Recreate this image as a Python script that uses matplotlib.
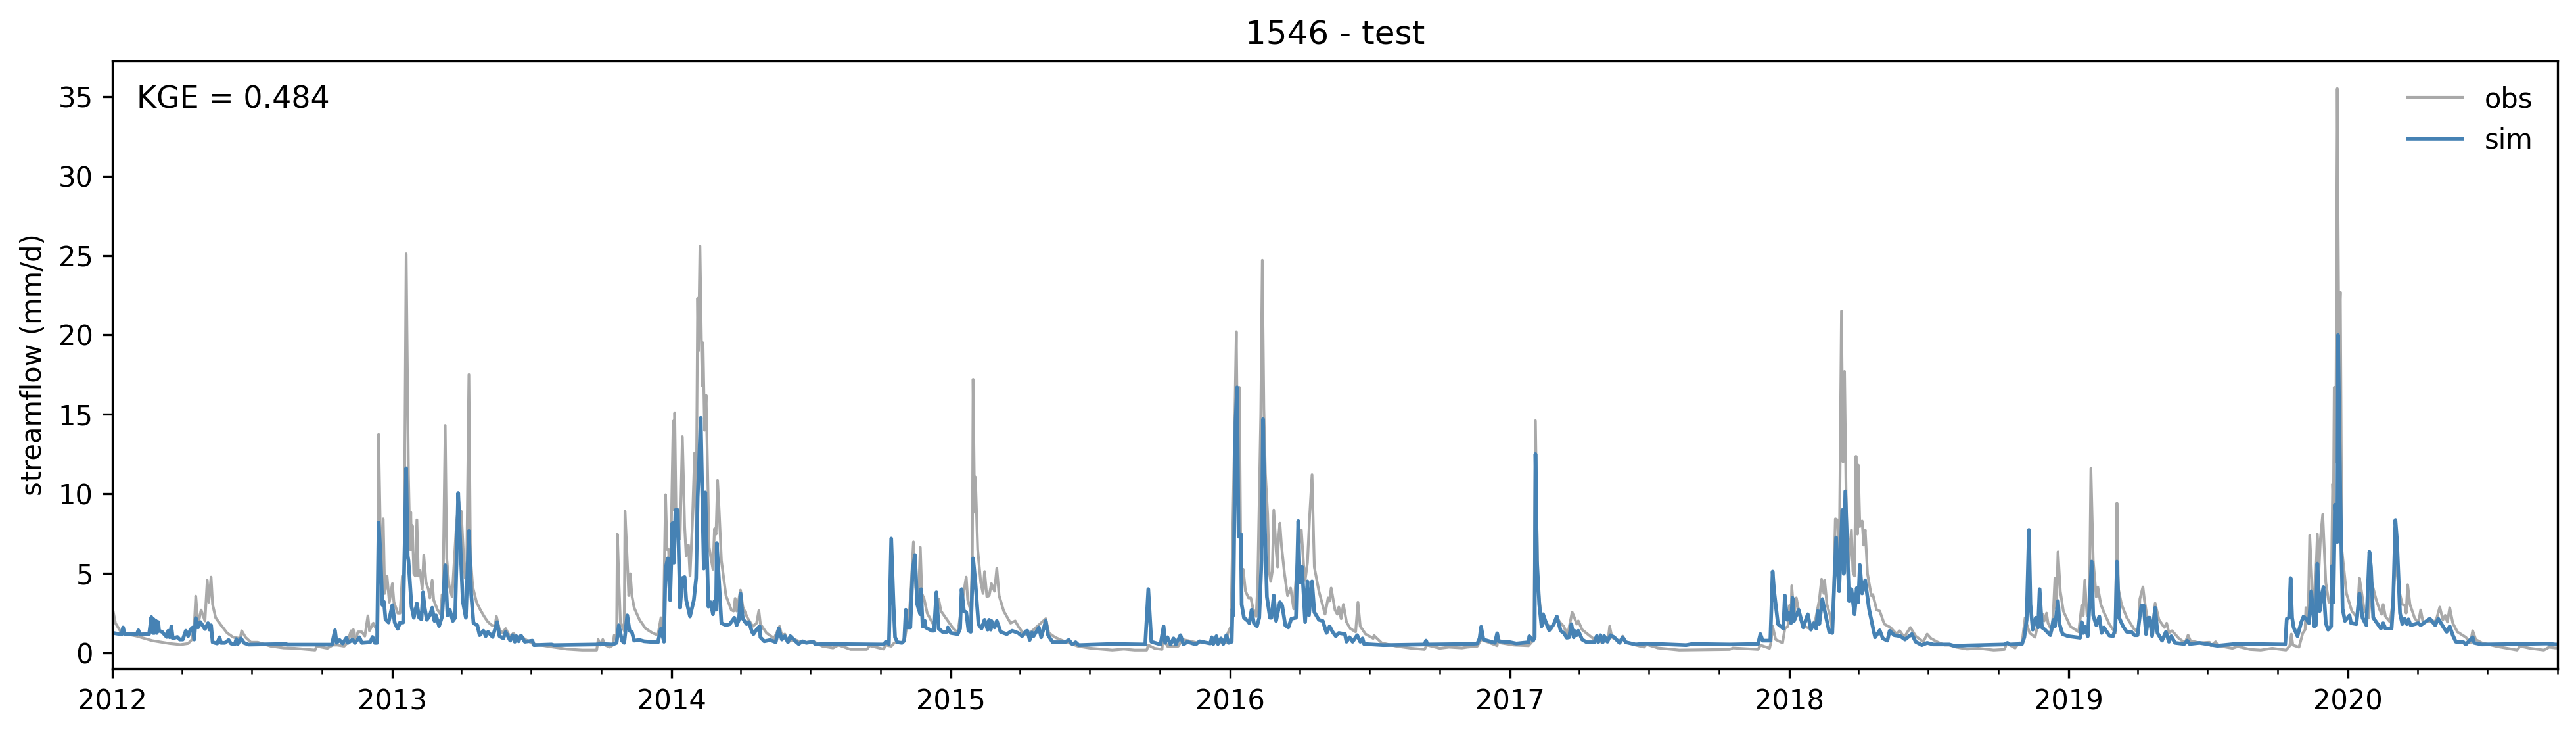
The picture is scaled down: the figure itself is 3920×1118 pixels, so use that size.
import numpy as np
import pandas as pd
import matplotlib
matplotlib.use("Agg")
import matplotlib.pyplot as plt
import matplotlib.dates as mdates

# days since 2012-01-01 and streamflow (mm/d)
start_date = pd.Timestamp("2012-01-01")

sim_days_2012 = [0,1,12,14,16,32,34,36,48,51,53,54,55,57,58,60,61,65,71,73,75,77,79,85,88,92,96,99,102,105,107,109,112,115,121,125,127,129,131,137,140,142,147,152,155,160,162,164,168,172,178,227,228,287,291,293,297,301,306,308,314,317,323,326,337,340,343,346,348,350,353,355,357,361,366,369,373,376,380,384,386,387,391]
sim_vals_2012 = [1.3,1.24,1.15,1.59,1.17,1.17,1.41,1.15,1.17,2.24,1.24,2.10,1.24,2.0,1.24,1.93,1.38,1.31,.99,1.38,.97,1.66,.9,.99,.83,.83,1.38,1.04,1.45,1.59,.83,2.18,1.59,1.93,1.49,1.86,1.45,1.73,.66,.58,.97,.62,.62,.8,.58,.52,.86,.55,.9,.62,.51,.55,.51,.51,1.41,.62,.8,.58,.94,.62,.83,.62,.97,.62,.66,.99,.62,.62,8.2,6.6,3.0,3.2,2.1,1.9,3.0,1.9,1.5,1.9,1.9,11.6,6.1,5.8,2.9]

sim_days_2013 = [394,398,401,404,406,408,411,415,418,421,423,427,431,435,438,441,445,448,452,454,458,462,466,469,472,477,480,485,488,491,497,503,506,511,514,520,523,526,528,531,534,539,549,551,574,577,632,639,654,659,662,666,669,673,676,679,682,689,695,713,717,721,723,726,729,732,734,736,739,742,745,748,750,755,760,763,765,767,769,773,775,779,782,785,787,789,790,793]
sim_vals_2013 = [2.2,3.1,2.2,2.1,3.8,2.9,2.07,2.35,2.83,2.0,2.35,1.68,2.28,5.5,2.35,2.7,2.0,2.2,10.05,7.73,3.25,2.2,7.66,3.7,1.86,1.73,1.1,1.38,1.04,1.31,.99,1.93,1.04,.9,1.31,.76,1.1,.69,1.04,.72,1.08,.69,.76,.48,.52,.48,.52,.55,.52,.62,1.73,.76,.62,2.35,1.38,1.31,.76,.8,.72,.65,1.52,.69,5.3,5.94,3.31,8.15,5.66,8.98,8.98,2.83,4.7,4.76,3.31,2.28,3.31,4.7,9.8,12.15,14.78,5.3,10.08,2.9,3.18,2.42,3.25,2.7,6.9,4.42]

sim_days_2014 = [796,802,807,813,816,819,821,824,829,832,836,838,843,846,847,852,860,867,871,875,879,883,886,892,897,902,907,916,919,929,1008,1011,1015,1018,1021,1023,1026,1032,1035,1037,1039,1043,1046,1049,1052,1056,1057,1059,1062,1063,1071,1074,1077,1080,1085,1091,1092,1096,1105,1108,1110,1113,1116,1119,1122,1125,1128,1132,1136,1140,1144,1146,1148,1149,1153,1156,1161,1169,1176,1184,1189,1194]
sim_vals_2014 = [1.86,1.73,1.8,2.2,1.73,2.07,3.73,2.14,1.8,1.93,1.31,1.17,1.52,1.66,.97,.72,.8,.66,1.52,.83,1.04,.66,1.04,.76,.55,.72,.62,.69,.52,.55,.52,.69,.55,7.18,3.04,.97,.66,.62,.76,2.7,1.59,1.59,5.25,6.15,3.04,2.42,4.0,1.66,2.0,1.59,1.38,1.38,3.8,1.52,1.31,1.31,1.59,1.24,1.17,1.52,4.0,2.62,2.55,1.38,1.31,5.94,4.42,1.8,1.52,2.07,1.45,2.07,1.45,2.0,1.59,2.0,1.31,1.17,1.38,1.24,1.04,1.35]

sim_days_2015 = [1196,1199,1202,1204,1211,1214,1220,1223,1229,1245,1250,1255,1259,1263,1307,1350,1354,1358,1370,1374,1376,1379,1383,1387,1390,1396,1400,1405,1416,1421,1435,1437,1439,1443,1445,1449,1452,1456,1459,1463,1464,1465,1468,1470,1472,1475,1476,1479,1484,1486,1489,1492,1496,1499,1502,1504,1506,1509,1513,1515,1518,1521,1526,1529,1533,1537,1541,1547,1550,1552,1555,1559,1562,1564,1568,1571,1577,1582,1587,1591]
sim_vals_2015 = [1.38,.8,1.27,1.04,1.59,.97,2.0,1.1,.66,.66,.8,.52,.66,.48,.55,.52,4.0,.69,.52,1.66,.62,.97,.52,.9,.52,1.1,.52,.69,.52,.72,.58,.97,.55,1.04,.55,.9,.55,1.1,.62,.69,2.76,2.35,14.5,16.7,7.3,7.46,3.04,2.2,2.0,1.86,2.7,1.86,1.66,2.2,5.8,14.7,8.56,3.52,2.2,2.2,3.6,2.0,3.18,2.97,1.73,1.59,2.14,2.2,8.28,4.42,5.39,1.93,4.49,2.35,4.49,2.55,2.07,2.0,1.24,1.66]

sim_days_2016 = [1595,1599,1603,1611,1613,1617,1621,1627,1631,1634,1636,1661,1715,1717,1719,1775,1784,1787,1789,1792,1807,1810,1812,1827,1835,1851,1852,1857,1859,1860,1862,1865,1868,1870,1874,1878,1884,1888,1893,1897,1901,1904,1907,1910,1911,1914,1916,1921,1927,1937,1940,1942,1945,1948,1950,1954,1958,1963,1970,1974,1978,1991]
sim_vals_2016 = [1.3,1.04,1.24,1.17,.69,.97,.69,1.1,.69,.9,.55,.48,.52,.76,.52,.55,.58,.9,1.63,.83,.62,1.22,.72,.66,.58,.66,1.04,.76,.97,12.5,5.8,3.04,1.66,2.42,1.86,1.41,1.8,2.28,1.38,1.24,.94,.97,1.8,.97,1.38,1.1,1.38,.83,.66,.66,1.04,.66,1.1,.66,1.04,.69,1.1,.97,.62,.97,.66,.52]

sim_days_2018 = [2005,2057,2065,2114,2151,2154,2157,2167,2170,2172,2177,2184,2186,2189,2191,2194,2196,2198,2204,2210,2216,2220,2224,2227,2229,2231,2235,2240,2244,2248,2253,2257,2261,2263,2265,2270,2273,2277,2280,2282,2284,2287,2291,2296,2302,2304,2310,2314,2320,2323,2329,2337,2343,2352,2357,2365,2372,2380,2395]
sim_vals_2018 = [.58,.48,.55,.52,.55,1.17,.76,.76,5.11,3.87,1.8,1.52,3.6,2.07,2.49,1.86,3.45,2.0,2.7,1.59,2.42,1.45,1.86,1.52,2.62,1.8,3.38,2.2,1.31,1.24,7.25,3.87,8.98,4.97,10.15,3.25,4.0,2.42,4.07,3.18,5.52,3.73,4.56,2.76,1.38,.97,1.41,.9,.76,1.38,1.1,1.04,.83,1.17,.69,.48,.62,.52,.52]

sim_days_2019 = [2401,2407,2473,2477,2480,2496,2499,2502,2505,2507,2510,2514,2517,2519,2522,2526,2533,2537,2539,2543,2545,2549,2556,2572,2574,2576,2578,2582,2587,2589,2593,2597,2600,2603,2610,2615,2618,2620,2623,2628,2633,2639,2643,2647,2650,2652,2655,2658,2661,2663,2666,2670,2673,2679,2684,2688,2691,2696,2708,2712,2715,2728,2751,2774,2794]
sim_vals_2019 = [.52,.44,.52,.62,.52,.55,.97,2.07,7.73,3.04,1.45,2.2,1.59,4.0,1.59,1.45,1.1,2.07,1.66,3.25,1.8,1.17,1.04,.94,1.93,1.24,1.66,1.04,5.73,2.35,1.73,2.28,1.24,1.59,1.08,1.04,1.52,5.73,2.2,1.66,1.31,1.31,1.1,1.1,2.35,2.97,2.97,1.17,2.2,2.2,1.04,2.83,1.24,.76,1.31,.69,1.04,.62,.55,.76,.55,.62,.44,.55,.55]

sim_days_2020 = [2840,2842,2845,2847,2849,2851,2856,2861,2864,2867,2871,2874,2878,2880,2882,2885,2887,2890,2893,2896,2900,2901,2903,2905,2908,2909,2912,2915,2918,2924,2926,2933,2937,2941,2946,2950,2952,2955,2959,2965,2968,2971,2979,2981,2984,2986,2990,2993,2996,2999,3001,3004,3014,3017,3029,3036,3040,3047,3051,3055,3059,3063,3073,3076,3085,3087,3097,3146,3182,3193,3195]
sim_vals_2020 = [.52,2.14,2.2,4.7,2.2,1.59,1.04,1.93,2.28,2.14,1.86,3.87,1.66,1.73,5.6,2.62,3.38,4.14,1.86,1.45,1.66,5.45,3.18,9.32,6.97,20.0,9.94,2.76,2.0,2.35,1.86,1.8,3.73,2.2,1.73,6.35,5.39,2.2,1.93,1.52,1.86,1.52,1.52,3.04,8.35,7.11,2.49,1.8,2.14,1.8,2.1,1.73,1.86,1.73,2.14,1.73,2.14,1.59,1.31,1.66,1.1,.69,.66,.52,.97,.62,.52,.55,.58,.52,.52]

obs_days_2012 = [0,1,4,12,32,52,75,89,99,104,107,109,111,113,116,121,124,126,129,131,135,141,150,158,167,169,174,181,190,207,224,238,265,267,281,288,294,303,307,312,313,315,317,321,326,330,334,336,341,346,347,348,350,352,354,356,359,362,366,368,373,376,379,381,384,387,389,390,391,392,394,396,398]
obs_vals_2012 = [2.8,2.62,1.86,1.24,1.04,.76,.58,.51,.58,.83,1.66,3.56,2.35,2.0,2.69,2.0,4.56,3.18,4.76,3.04,2.2,1.8,1.24,.97,.9,1.38,.97,.66,.66,.41,.3,.28,.17,.41,.28,.48,.48,.41,.62,1.38,.97,1.45,.62,1.31,1.31,1.04,2.32,1.38,1.86,1.38,.97,13.74,8.28,3.73,8.42,3.73,4.83,3.18,4.35,3.18,2.49,2.49,4.83,3.31,25.1,11.19,6.49,8.84,6.49,8.0,4.97,4.83,8.36]

obs_days_2013 = [400,402,405,407,410,413,415,418,420,425,429,431,432,435,437,440,444,445,450,453,455,456,459,461,463,466,468,471,476,481,487,491,496,500,502,506,510,514,520,524,529,534,540,550,571,594,614,633,635,638,641,644,650,654,656,659,660,662,664,669,670,672,675,677,679,682,689,697,706,713,717,720,723,725,727,729,733,734,735,737,742,745,748,750,753,755,758,761,763,765,766,768,770,771,772,774,776,780,785,787,789,791,793]
obs_vals_2013 = [4.83,5.18,4.0,6.15,4.42,4.0,3.45,4.56,3.31,2.69,2.42,3.66,3.31,14.3,5.94,4.28,3.52,4.28,8.3,9.5,6.63,8.9,6.08,4.7,4.63,17.5,6.08,4.14,3.18,2.69,2.2,1.93,1.73,1.66,2.28,1.45,1.24,1.52,.97,1.22,.97,1.04,.83,.55,.39,.23,.17,.17,.83,.48,.83,.48,.35,.48,1.1,.83,7.46,4.56,1.93,1.38,8.9,6.84,3.6,4.97,3.6,2.83,2.07,1.52,1.24,1.1,2.2,1.1,9.94,6.49,6.49,3.73,14.57,8.98,15.1,7.73,7.18,13.6,7.94,6.08,6.77,4.83,8.0,12.57,7.73,22.3,19.0,25.6,19.3,16.8,19.5,14.0,16.2,6.63,5.25,7.8,7.46,10.84,9.0]

obs_days_2014 = [796,802,809,812,814,816,821,824,830,837,842,845,847,855,865,872,875,879,883,892,902,916,928,942,949,965,986,990,1008,1011,1018,1022,1032,1036,1042,1044,1047,1050,1053,1056,1058,1061,1065,1072,1075,1080,1083,1091,1098,1105,1112,1116,1118,1122,1124,1125,1127,1128,1131,1135,1138,1140,1143,1146,1149,1153,1156,1159,1165,1174,1180,1184,1189,1196]
obs_vals_2014 = [5.8,3.59,2.69,2.62,3.42,2.62,3.94,2.9,2.2,1.66,1.86,2.65,1.8,1.24,.9,1.66,1.1,1.17,.69,.83,.62,.72,.41,.3,.48,.21,.21,.44,.23,.48,.41,.62,.62,.97,2.76,4.14,6.97,4.14,2.76,6.63,3.73,3.38,2.49,1.86,1.66,3.38,2.62,2.07,1.59,1.24,3.59,4.76,3.31,2.62,6.08,17.2,8.84,11.05,6.49,4.42,3.73,5.11,3.52,3.59,4.35,3.87,5.32,3.59,2.62,1.86,2.0,1.66,1.31,1.1]

obs_days_2015 = [1220,1224,1232,1242,1250,1262,1279,1307,1322,1336,1352,1354,1362,1372,1373,1379,1393,1399,1419,1456,1458,1462,1463,1467,1469,1471,1473,1475,1478,1481,1485,1488,1491,1495,1497,1501,1503,1505,1507,1510,1512,1514,1516,1518,1521,1523,1524,1526,1528,1532,1536,1540,1544,1548,1550,1554,1557,1559,1562,1565,1568,1571,1577,1585,1589,1591,1593]
obs_vals_2015 = [2.14,1.24,.97,.76,.62,.41,.28,.17,.23,.17,.17,.48,.28,.21,.97,.41,.41,.83,.62,.62,1.24,1.66,4.28,14.5,20.2,11.0,16.7,5.25,5.25,3.87,3.45,3.45,2.76,2.28,4.28,15.0,24.7,15.4,11.3,8.7,5.11,4.49,5.11,8.98,6.49,5.39,7.11,8.15,6.77,4.97,3.59,4.07,2.76,5.25,6.49,7.73,5.52,4.56,5.66,8.7,11.2,5.39,3.87,2.42,3.45,3.25,4.07]

obs_days_2016 = [1598,1601,1603,1606,1609,1613,1618,1625,1628,1631,1638,1648,1649,1659,1678,1698,1715,1718,1735,1747,1764,1771,1784,1789,1810,1811,1814,1832,1851,1858,1860,1863,1865,1868,1874,1881,1888,1893,1897,1902,1908,1911,1914,1916,1921,1930,1938,1947,1955,1957,1960,1970,1974,1978,1991]
obs_vals_2016 = [2.69,2.42,2.87,2.14,3.04,1.93,1.52,1.31,3.18,1.66,1.17,.9,1.08,.62,.41,.28,.21,.48,.28,.35,.3,.35,.41,.83,.44,1.04,.62,.48,.44,.83,14.6,4.7,3.45,2.07,1.86,1.52,2.2,1.86,1.66,1.1,2.55,2.2,1.8,2.0,1.45,1.1,.8,.66,.83,1.66,.97,.69,1.04,.69,.48]

obs_days_2018 = [2002,2005,2020,2048,2114,2118,2151,2154,2166,2168,2170,2174,2183,2186,2190,2192,2194,2195,2198,2201,2206,2211,2219,2226,2231,2234,2237,2238,2241,2246,2248,2250,2252,2255,2257,2258,2260,2262,2264,2266,2268,2273,2275,2277,2279,2281,2282,2284,2287,2289,2291,2294,2299,2301,2306,2310,2316,2324,2332,2336,2342,2350,2357,2367,2372,2377,2386,2395]
obs_vals_2018 = [.35,.52,.3,.17,.21,.3,.21,.48,.28,.69,1.66,.83,.62,1.52,1.66,2.97,2.07,4.21,2.35,3.45,2.14,1.66,1.52,2.07,3.31,4.63,3.73,4.56,3.04,2.2,1.31,4.42,8.42,8.35,5.52,10.6,21.5,12.0,17.7,10.0,5.11,7.73,5.11,4.83,12.36,7.46,11.8,7.94,8.29,6.77,7.73,4.97,3.59,3.66,2.69,2.62,1.8,1.59,1.17,1.38,.97,1.59,1.04,.69,1.17,.9,.66,.48]

obs_days_2019 = [2401,2410,2424,2439,2459,2473,2476,2487,2492,2496,2500,2503,2506,2513,2519,2523,2525,2528,2530,2535,2537,2539,2541,2543,2546,2550,2559,2570,2574,2576,2578,2581,2584,2586,2589,2593,2595,2599,2603,2610,2618,2620,2622,2626,2633,2642,2648,2650,2654,2656,2660,2666,2670,2675,2682,2685,2688,2692,2701,2709,2713,2716,2728,2741,2743,2749,2752,2771,2778,2794]
obs_vals_2019 = [.48,.35,.23,.28,.17,.21,.58,.3,.62,.62,2.2,1.66,1.24,.97,2.35,2.42,2.0,2.49,1.86,1.38,2.62,4.7,2.76,6.35,3.87,2.62,1.66,1.31,2.97,2.35,4.56,2.35,3.04,11.6,5.8,3.52,4.14,3.04,2.55,1.8,1.24,9.42,4.0,3.04,2.2,1.52,1.24,3.38,4.14,3.31,2.07,1.38,3.11,2.07,1.59,1.86,1.24,1.38,.9,.62,1.1,.76,.62,.66,.44,.69,.44,.28,.39,.21]

obs_days_2020 = [2808,2823,2841,2846,2848,2850,2858,2863,2866,2867,2870,2872,2875,2878,2882,2884,2886,2889,2893,2897,2900,2902,2903,2904,2906,2908,2910,2912,2914,2920,2927,2934,2937,2939,2943,2949,2953,2959,2963,2966,2968,2971,2977,2981,2984,2989,2993,2997,2998,3000,3003,3009,3014,3017,3020,3037,3042,3046,3049,3052,3055,3059,3065,3076,3082,3085,3089,3097,3117,3143,3147,3160,3178,3185,3193,3195]
obs_vals_2020 = [.17,.28,.17,.44,1.17,.48,.35,1.24,1.45,2.83,2.2,7.39,4.42,2.2,7.46,5.11,7.18,8.7,4.42,3.18,3.31,10.63,9.25,16.7,12.0,35.5,20.0,22.7,6.49,3.73,2.62,2.2,4.7,4.07,2.76,2.2,4.42,3.31,2.76,2.42,3.04,2.28,1.93,3.31,5.8,3.87,3.04,2.97,2.49,4.28,3.04,2.2,1.86,2.69,1.93,2.0,2.87,2.07,2.35,1.93,2.83,1.86,1.31,.97,.62,1.38,.83,.62,.39,.17,.41,.28,.17,.35,.3,.3]

sim_parts = [(sim_days_2012, sim_vals_2012), (sim_days_2013, sim_vals_2013), (sim_days_2014, sim_vals_2014),
             (sim_days_2015, sim_vals_2015), (sim_days_2016, sim_vals_2016), (sim_days_2018, sim_vals_2018),
             (sim_days_2019, sim_vals_2019), (sim_days_2020, sim_vals_2020)]
obs_parts = [(obs_days_2012, obs_vals_2012), (obs_days_2013, obs_vals_2013), (obs_days_2014, obs_vals_2014),
             (obs_days_2015, obs_vals_2015), (obs_days_2016, obs_vals_2016), (obs_days_2018, obs_vals_2018),
             (obs_days_2019, obs_vals_2019), (obs_days_2020, obs_vals_2020)]


def to_series(parts):
    n = [min(len(d), len(v)) for d, v in parts]
    days = np.concatenate([d[:k] for (d, v), k in zip(parts, n)])
    vals = np.concatenate([v[:k] for (d, v), k in zip(parts, n)])
    return start_date + pd.to_timedelta(days, unit="D"), vals


obs_t, obs_y = to_series(obs_parts)
sim_t, sim_y = to_series(sim_parts)

fig = plt.figure(figsize=(3920 / 300, 1118 / 300), dpi=300)
ax = fig.add_axes([171 / 3920, 1 - 1017 / 1118, (3892 - 171) / 3920, (1017 - 92.5) / 1118])

ax.plot(obs_t, obs_y, color="darkgrey", lw=1, label="obs")
ax.plot(sim_t, sim_y, color="steelblue", lw=1.35, label="sim")

ax.set_xlim(pd.Timestamp("2012-01-01"), pd.Timestamp("2020-10-01"))
ax.set_ylim(-1.0, 37.25)
ax.set_yticks(range(0, 36, 5))
ax.xaxis.set_major_locator(mdates.YearLocator())
ax.xaxis.set_major_formatter(mdates.DateFormatter("%Y"))
ax.xaxis.set_minor_locator(mdates.MonthLocator(bymonth=(4, 7, 10)))
ax.set_ylabel("streamflow (mm/d)")
ax.set_title("1546 - test")
ax.text(0.01, 0.96, "KGE = 0.484", transform=ax.transAxes, ha="left", va="top", fontsize=11)
ax.legend(loc="upper right", frameon=False)

fig.savefig("out.png", dpi=300)
